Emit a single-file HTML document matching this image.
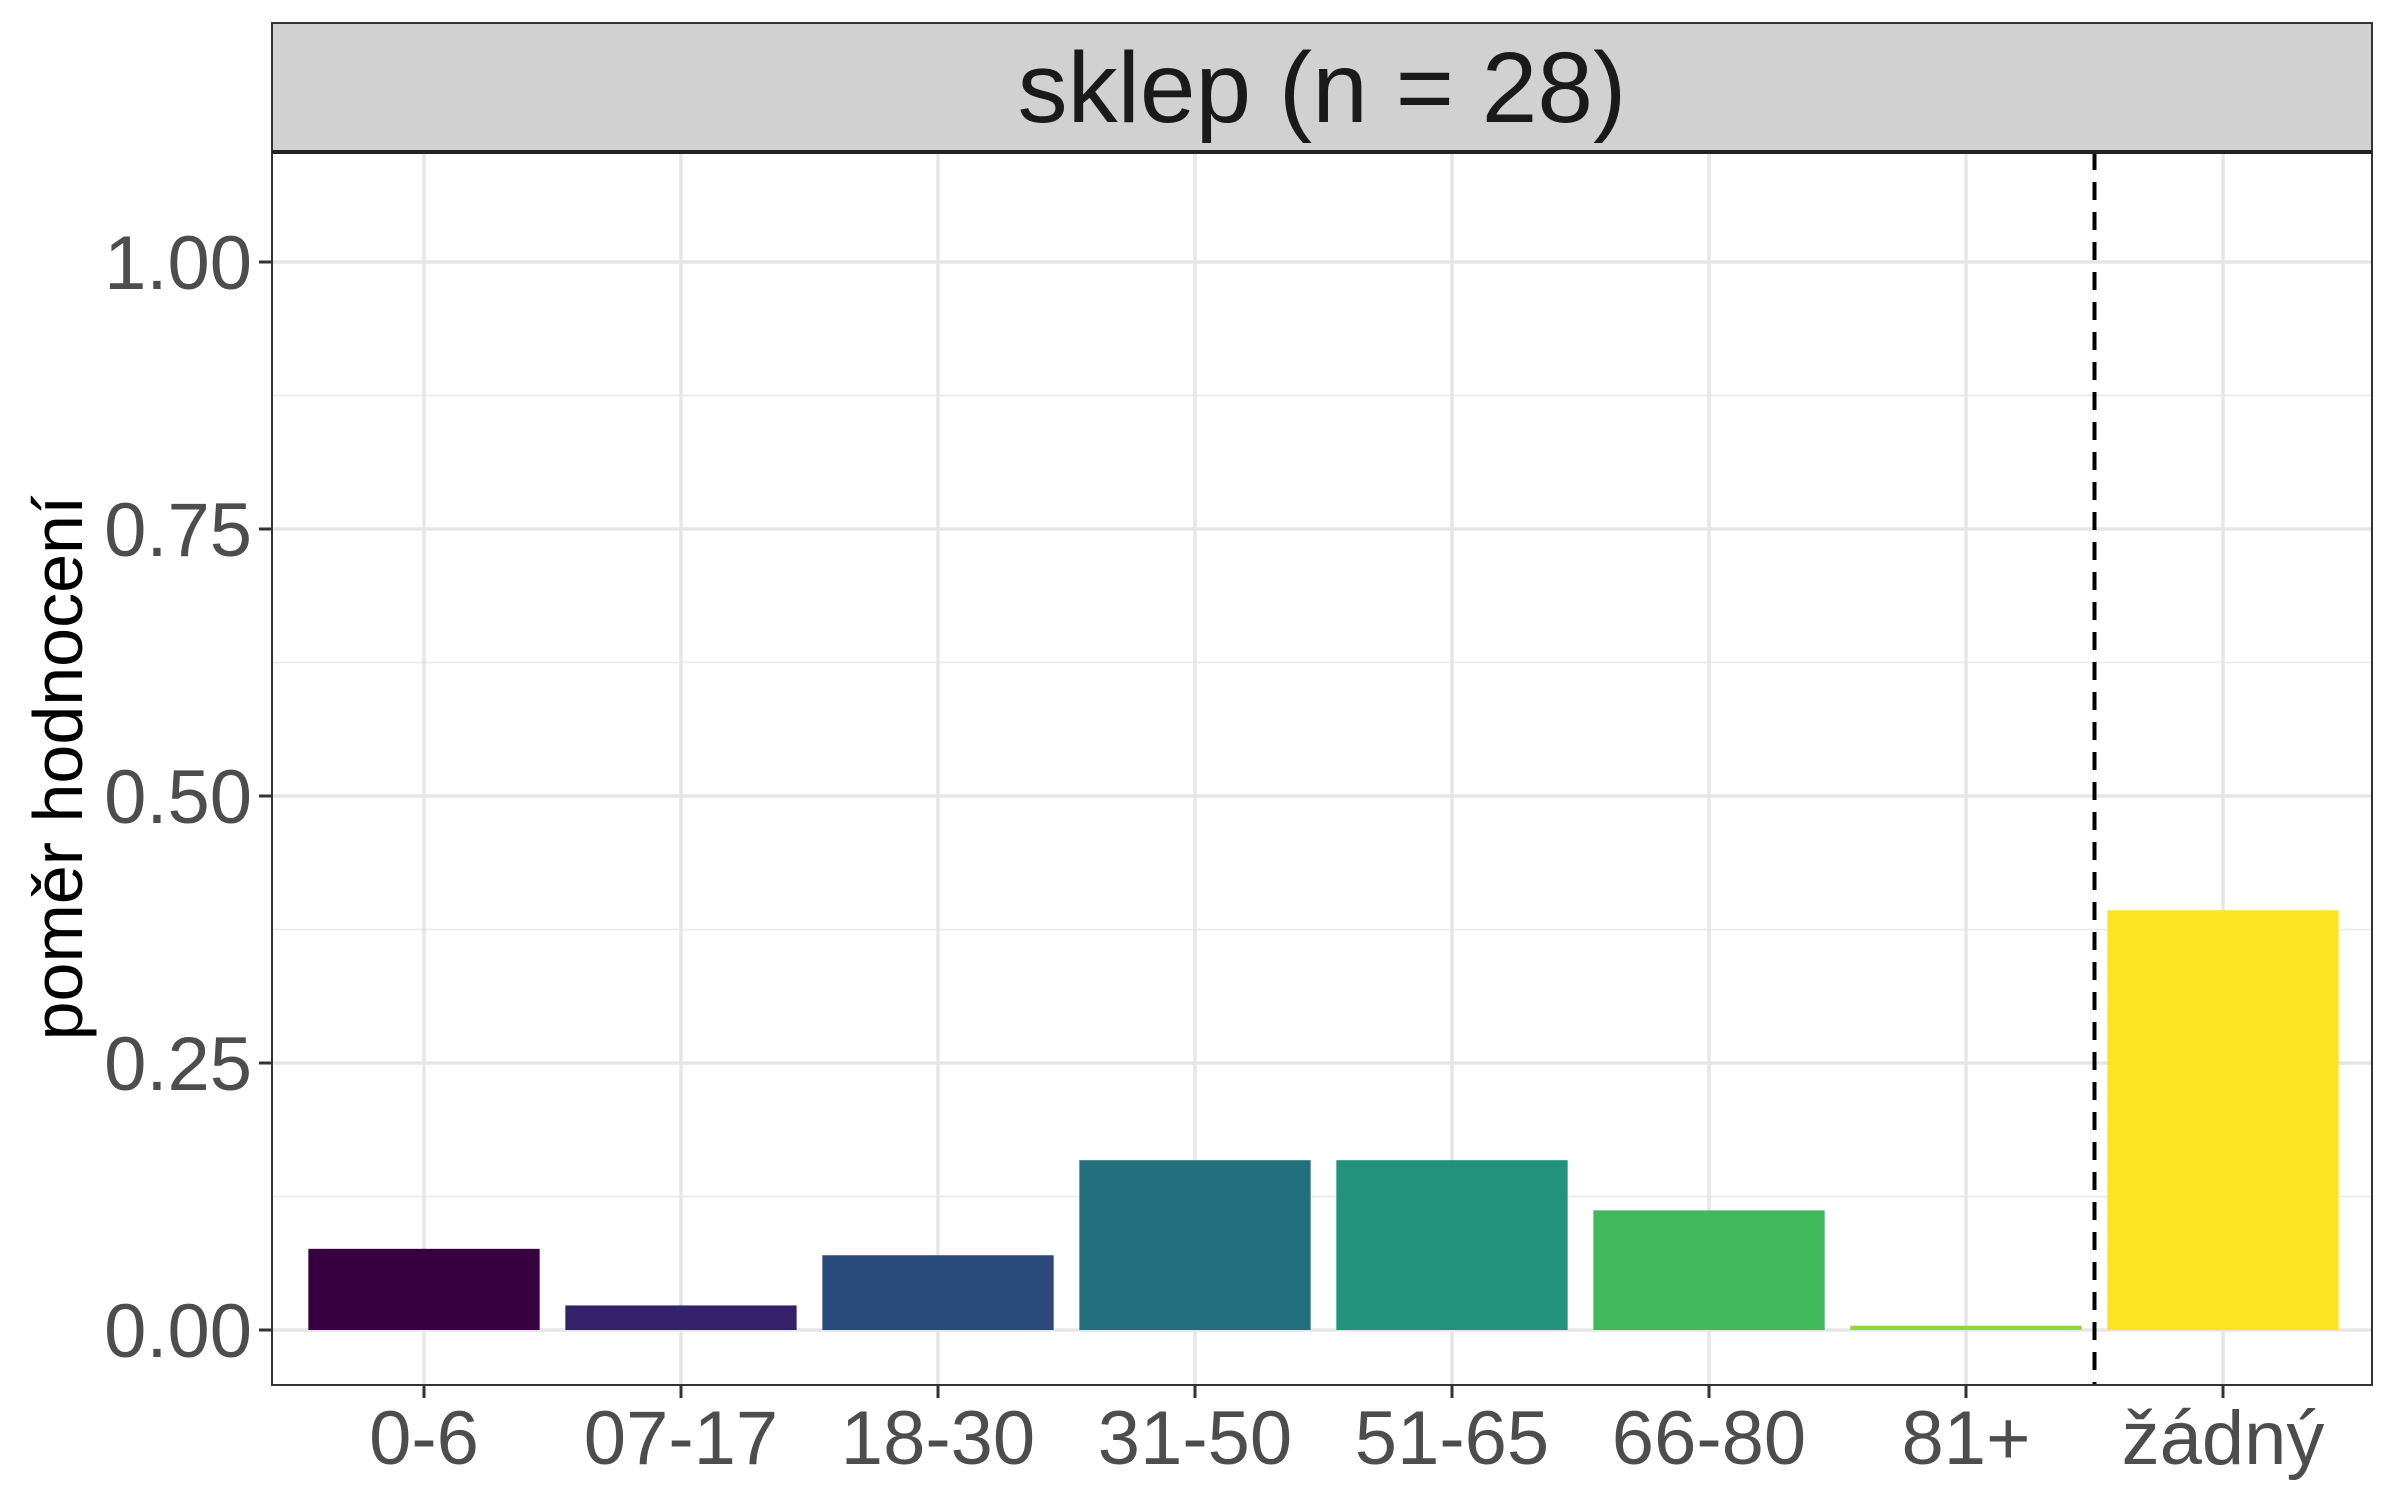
<!DOCTYPE html>
<html><head><meta charset="utf-8"><style>
html,body{margin:0;padding:0;background:#fff;}
svg{display:block;font-family:"Liberation Sans",Arial,sans-serif;}
</style></head><body>
<svg id="chart" width="2400" height="1500" viewBox="0 0 2400 1500">
<rect x="0" y="0" width="2400" height="1500" fill="#fff"/>
<g id="grid"></g>
<g id="bars"></g>
<line id="sep" stroke="#000" stroke-width="4" stroke-dasharray="18,12"/>
<rect x="272" y="152" width="2100" height="1233" fill="none" stroke="#333" stroke-width="2"/>
<rect x="272" y="23" width="2100" height="129" fill="#d1d1d1" stroke="#333" stroke-width="2"/>
<line x1="272" y1="152" x2="2372" y2="152" stroke="#222" stroke-width="4"/>
<text x="1322" y="122" font-size="100" fill="#1a1a1a" text-anchor="middle">sklep (n = 28)</text>
<g id="yaxis"></g>
<g id="xaxis"></g>
<text transform="translate(82,768) rotate(-90)" font-size="70" fill="#000" text-anchor="middle">poměr hodnocení</text>
</svg>
<script>
const categories = ["0-6","07-17","18-30","31-50","51-65","66-80","81+","žádný"];
const values = [0.076,0.023,0.070,0.159,0.159,0.112,0.004,0.393];
const colors = ["#370040","#33226a","#2b4a7c","#226f7e","#20937a","#40b85c","#8fd63a","#fce421"];
const yTicks = [0,0.25,0.5,0.75,1.0];
const yTickLabels = ["0.00","0.25","0.50","0.75","1.00"];
const yMinor = [0.125,0.375,0.625,0.875];
const separatorPos = 7.5;

const NS="http://www.w3.org/2000/svg";
const L=272,R=2372,T=152,B=1385;
const STEP=257;
function xs(i){return 424+(i-1)*STEP;}   // i is 1-based category position
function ys(v){return 1330-v*1068;}
function mk(tag,attrs,parent){const e=document.createElementNS(NS,tag);for(const k in attrs)e.setAttribute(k,attrs[k]);parent.appendChild(e);return e;}
const grid=document.getElementById('grid'),bars=document.getElementById('bars'),ya=document.getElementById('yaxis'),xa=document.getElementById('xaxis');

yMinor.forEach(v=>{
  const l=mk('line',{x1:L,x2:R,y1:ys(v),y2:ys(v),stroke:'#ebebeb','stroke-width':1.8},grid);
  
  
});
yTicks.forEach((v,i)=>{
  const l=mk('line',{x1:L,x2:R,y1:ys(v),y2:ys(v),stroke:'#e6e6e6','stroke-width':3.5},grid);
  
  
  const t=mk('line',{x1:L-13,x2:L,y1:ys(v),y2:ys(v),stroke:'#333','stroke-width':3},ya);
  
  
  const tx=mk('text',{x:L-20,y:ys(v)+27,'font-size':76,fill:'#4d4d4d','text-anchor':'end'},ya);
  tx.textContent=yTickLabels[i];
  
  
});
categories.forEach((c,i)=>{
  const cx=xs(i+1);
  const g=mk('line',{x1:cx,x2:cx,y1:T,y2:B,stroke:'#e6e6e6','stroke-width':3.5},grid);
  
  
  const w=0.9*STEP;
  const b=mk('rect',{x:cx-w/2,y:ys(values[i]),width:w,height:ys(0)-ys(values[i]),fill:colors[i]},bars);
  
  
  const t=mk('line',{x1:cx,x2:cx,y1:B,y2:B+13,stroke:'#333','stroke-width':3},xa);
  
  
  const tx=mk('text',{x:cx,y:1464,'font-size':76,fill:'#4d4d4d','text-anchor':'middle'},xa);
  tx.textContent=c;
  
  
});
const sep=document.getElementById('sep');
sep.setAttribute('x1',xs(separatorPos));sep.setAttribute('x2',xs(separatorPos));
sep.setAttribute('y1',T);sep.setAttribute('y2',B);
</script>
</body></html>
